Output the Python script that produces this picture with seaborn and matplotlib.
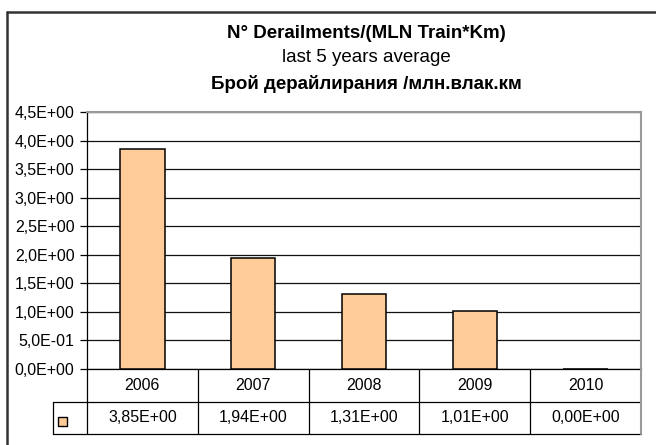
import matplotlib
matplotlib.use("Agg")
import matplotlib.pyplot as plt
import matplotlib.transforms as mtrans
import seaborn as sns
import pandas as pd
from matplotlib.ticker import FuncFormatter, MultipleLocator
from matplotlib.lines import Line2D
from matplotlib.patches import Rectangle

# ---- data ----
years = ["2006", "2007", "2008", "2009", "2010"]
values = [3.85, 1.94, 1.31, 1.01, 0.00]
value_labels = ["3,85E+00", "1,94E+00", "1,31E+00", "1,01E+00", "0,00E+00"]
title_lines = ["N° Derailments/(MLN Train*Km)", "last 5 years average",
               "Брой дерайлирания /млн.влак.км"]
bar_color = "#FFCC99"

sns.set_theme(style="white")
plt.rcParams['font.family'] = ['Liberation Sans', 'DejaVu Sans']

W, H = 656, 445
fig = plt.figure(figsize=(W / 100, H / 100), dpi=100)
fig.patch.set_facecolor("white")


def fx(x):
    return x / W


def fy(y):
    return 1 - y / H


L, R, T, B = 87, 641, 112, 369
ax = fig.add_axes([fx(L), fy(B), fx(R) - fx(L), fy(T) - fy(B)])
df = pd.DataFrame({"year": years, "value": values})
sns.barplot(data=df, x="year", y="value", ax=ax, color=bar_color,
            edgecolor="black", linewidth=1.1, width=0.4, saturation=1, zorder=3)
ax.set_ylim(0, 4.5)
ax.set_xlim(-0.5, len(years) - 0.5)
ax.yaxis.set_major_locator(MultipleLocator(0.5))
ax.yaxis.set_major_formatter(FuncFormatter(lambda v, p: f"{v:.1E}".replace('.', ',')))
ax.grid(axis='y', color='#111111', linewidth=0.9)
ax.set_axisbelow(True)
ax.set_xticks([])
ax.set_xlabel('')
ax.set_ylabel('')
ax.tick_params(axis='y', left=True, length=5, width=0.9, color='black',
               labelsize=11.5, pad=4, labelcolor='black')
ax.spines['left'].set_color('black')
ax.spines['left'].set_linewidth(0.9)
ax.spines['bottom'].set_color('black')
ax.spines['bottom'].set_linewidth(0.9)
ax.spines['top'].set_color('#999999')
ax.spines['top'].set_linewidth(1.5)
ax.spines['right'].set_color('#999999')
ax.spines['right'].set_linewidth(1.5)

# ---- titles ----
cx = fx(366)
fig.text(cx, fy(33), title_lines[0], ha='center', va='center', fontsize=13.5,
         fontweight='bold', color='black')
fig.text(cx, fy(58), title_lines[1], ha='center', va='center', fontsize=13.5,
         color='black')
fig.text(cx, fy(84), title_lines[2], ha='center', va='center', fontsize=13.5,
         fontweight='bold', color='black')

# ---- data table below axis ----
r1_top, r1_bot, r2_bot = 369, 402, 434
key_left = 53
lw = 0.9
fig.add_artist(Line2D([fx(key_left), fx(R)], [fy(r1_bot), fy(r1_bot)], color='black', lw=lw))
fig.add_artist(Line2D([fx(key_left), fx(R)], [fy(r2_bot), fy(r2_bot)], color='black', lw=lw))
blend = mtrans.blended_transform_factory(ax.transData, fig.transFigure)
n = len(years)
for i in range(n + 1):
    xb = i - 0.5
    col = '#999999' if i == n else 'black'
    fig.add_artist(Line2D([xb, xb], [fy(r1_top), fy(r2_bot)], color=col,
                          lw=lw if i < n else 1.5, transform=blend))
fig.add_artist(Line2D([fx(key_left), fx(key_left)], [fy(r1_bot), fy(r2_bot)], color='black', lw=lw))
for i, (yr, lab) in enumerate(zip(years, value_labels)):
    fig.text(i, fy((r1_top + r1_bot) / 2), yr, ha='center', va='center', fontsize=11.5,
             transform=blend, color='black')
    fig.text(i, fy((r1_bot + r2_bot) / 2), lab, ha='center', va='center', fontsize=11.5,
             transform=blend, color='black')
# legend key
fig.add_artist(Rectangle((fx(58), fy(426)), 9 / W, 9 / H, facecolor=bar_color,
                         edgecolor='black', lw=1.0))

# ---- outer chart border (cut by image edge) ----
fig.add_artist(Line2D([fx(7), fx(7)], [fy(12), 0], color='#333333', lw=1.8))
fig.add_artist(Line2D([fx(7), 1], [fy(12), fy(12)], color='#333333', lw=1.8))

fig.savefig("out.png", dpi=100)
